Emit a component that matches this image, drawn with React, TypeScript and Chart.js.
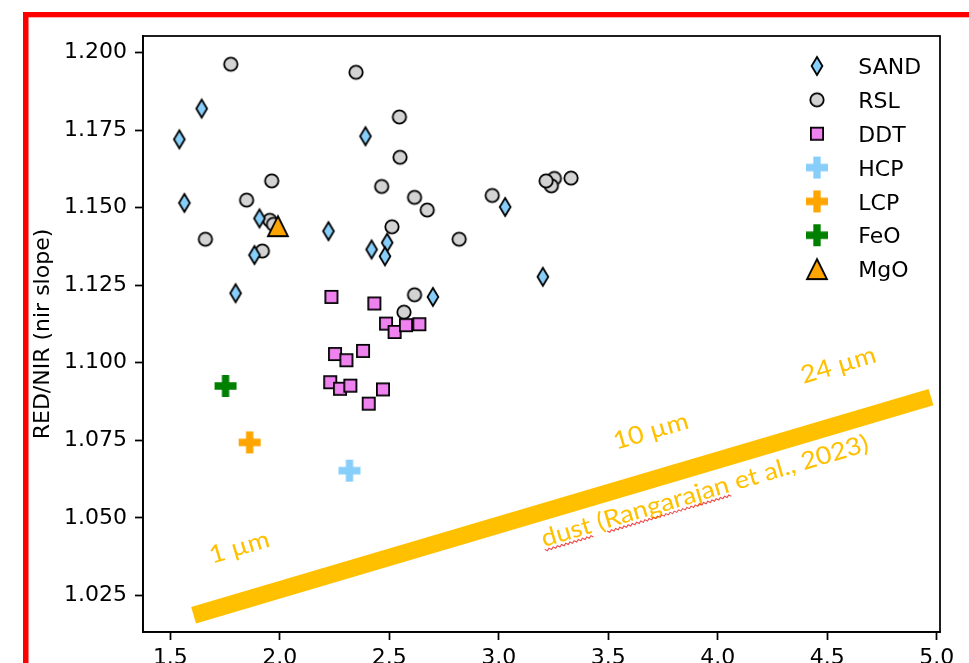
import React, { useEffect, useRef } from "react";
import { Chart, registerables } from "chart.js";

Chart.register(...registerables);

// ---------------- data ----------------
const SERIES_NAMES = ["SAND", "RSL", "DDT", "HCP", "LCP", "FeO", "MgO"];

const SAND_X = [1.541, 1.643, 1.564, 1.907, 1.884, 1.798, 2.222, 2.391, 2.419, 2.49, 2.48, 2.699, 3.029, 3.201];
const SAND_Y = [1.172, 1.1819, 1.1515, 1.1465, 1.1347, 1.1224, 1.1424, 1.173, 1.1365, 1.1387, 1.1343, 1.1212, 1.1502, 1.1277];

const RSL_X = [1.776, 2.348, 2.546, 2.549, 1.963, 1.848, 2.465, 2.615, 2.673, 1.954, 1.971, 2.512, 1.66, 1.92, 2.819, 2.97, 3.254, 3.24, 3.216, 3.33, 2.615, 2.567];
const RSL_Y = [1.1962, 1.1936, 1.1792, 1.1662, 1.1586, 1.1524, 1.1568, 1.1533, 1.1492, 1.1459, 1.1446, 1.1438, 1.1398, 1.136, 1.1398, 1.1539, 1.1594, 1.157, 1.1586, 1.1595, 1.1219, 1.1163];

const DDT_X = [2.2355, 2.4316, 2.485, 2.524, 2.576, 2.637, 2.252, 2.304, 2.38, 2.23, 2.275, 2.322, 2.406, 2.471];
const DDT_Y = [1.1212, 1.1191, 1.1126, 1.1099, 1.1121, 1.1124, 1.1028, 1.1008, 1.1038, 1.0937, 1.0916, 1.0926, 1.0868, 1.0914];

const HCP_X = [2.318];
const HCP_Y = [1.0652];
const LCP_X = [1.862];
const LCP_Y = [1.0743];
const FEO_X = [1.752];
const FEO_Y = [1.0925];
const MGO_X = [1.991];
const MGO_Y = [1.144];

// dust trend (Rangarajan et al., 2023)
const DUST_X = [1.606, 4.974];
const DUST_Y = [1.0186, 1.0889];
const DUST_LABELS = ["1 \u00b5m", "10 \u00b5m", "24 \u00b5m", "dust (Rangarajan et al., 2023)"];
const DUST_LABEL_X = [1.816, 3.695, 4.552, 3.942];
const DUST_LABEL_Y = [1.0402, 1.0776, 1.0989, 1.0583];

const X_TICKS = [1.5, 2.0, 2.5, 3.0, 3.5, 4.0, 4.5, 5.0];
const X_TICK_LABELS = ["1.5", "2.0", "2.5", "3.0", "3.5", "4.0", "4.5", "5.0"];
const Y_TICKS = [1.025, 1.05, 1.075, 1.1, 1.125, 1.15, 1.175, 1.2];
const Y_TICK_LABELS = ["1.025", "1.050", "1.075", "1.100", "1.125", "1.150", "1.175", "1.200"];

const X_MIN = 1.375;
const X_MAX = 5.015;
const Y_MIN = 1.0132;
const Y_MAX = 1.2053;

// ---------------- styling ----------------
const FONT = "DejaVu Sans";
const DUST_COLOR = "#FFC000";

type Kind = "diamond" | "circle" | "square" | "triangle" | "plus";

function makeMarker(kind: Kind, fill: string, stroke: string, lw: number): HTMLCanvasElement {
  const c = document.createElement("canvas");
  const S = 30;
  c.width = S;
  c.height = S;
  const g = c.getContext("2d")!;
  g.translate(S / 2, S / 2);
  g.beginPath();
  if (kind === "diamond") {
    g.moveTo(0, -9);
    g.lineTo(5.4, 0);
    g.lineTo(0, 9);
    g.lineTo(-5.4, 0);
    g.closePath();
  } else if (kind === "circle") {
    g.arc(0, 0, 6.7, 0, Math.PI * 2);
  } else if (kind === "square") {
    g.rect(-6.1, -6.1, 12.2, 12.2);
  } else if (kind === "triangle") {
    g.moveTo(0, -10);
    g.lineTo(10, 10);
    g.lineTo(-10, 10);
    g.closePath();
  } else {
    const a = 11;
    const b = 3.67;
    g.moveTo(-b, -a);
    g.lineTo(b, -a);
    g.lineTo(b, -b);
    g.lineTo(a, -b);
    g.lineTo(a, b);
    g.lineTo(b, b);
    g.lineTo(b, a);
    g.lineTo(-b, a);
    g.lineTo(-b, b);
    g.lineTo(-a, b);
    g.lineTo(-a, -b);
    g.lineTo(-b, -b);
    g.closePath();
  }
  g.fillStyle = fill;
  g.fill();
  if (lw > 0) {
    g.lineJoin = "miter";
    g.lineWidth = lw;
    g.strokeStyle = stroke;
    g.stroke();
  }
  return c;
}

function zip(xs: number[], ys: number[]) {
  return xs.map((x, i) => ({ x, y: ys[i] }));
}

export default function App() {
  const ref = useRef<HTMLCanvasElement | null>(null);

  useEffect(() => {
    const canvas = ref.current;
    if (!canvas) return;

    const markers = [
      makeMarker("diamond", "#87CEFA", "#000", 1.8),
      makeMarker("circle", "#D3D3D3", "#000", 1.8),
      makeMarker("square", "#EE82EE", "#000", 1.8),
      makeMarker("plus", "#87CEFA", "#87CEFA", 0),
      makeMarker("plus", "#FFA500", "#FFA500", 0),
      makeMarker("plus", "#008000", "#008000", 0),
      makeMarker("triangle", "#FFA500", "#000", 1.8),
    ];
    const seriesData = [
      zip(SAND_X, SAND_Y),
      zip(RSL_X, RSL_Y),
      zip(DDT_X, DDT_Y),
      zip(HCP_X, HCP_Y),
      zip(LCP_X, LCP_Y),
      zip(FEO_X, FEO_Y),
      zip(MGO_X, MGO_Y),
    ];
    const orders = [5, 6, 4, 3, 2, 1, 0];

    const datasets: any[] = SERIES_NAMES.map((name, i) => ({
      label: name,
      data: seriesData[i],
      pointStyle: markers[i],
      pointRadius: 6,
      order: orders[i],
      showLine: false,
    }));
    datasets.push({
      label: "dust",
      data: zip(DUST_X, DUST_Y),
      showLine: true,
      borderColor: DUST_COLOR,
      borderWidth: 17,
      borderCapStyle: "butt",
      pointRadius: 0,
      order: 10,
    });

    const decor = {
      id: "decor",
      beforeDraw(chart: any) {
        const ctx = chart.ctx;
        ctx.save();
        ctx.fillStyle = "#fff";
        ctx.fillRect(0, 0, chart.width, chart.height);
        ctx.fillStyle = "#FF0000";
        ctx.fillRect(23, 12, chart.width - 23, 5.3);
        ctx.fillRect(23, 12, 5.5, chart.height);
        ctx.restore();
      },
      afterDatasetsDraw(chart: any) {
        const ctx = chart.ctx;
        const xs = chart.scales.x;
        const ys = chart.scales.y;
        const x0 = xs.getPixelForValue(DUST_X[0]);
        const y0 = ys.getPixelForValue(DUST_Y[0]);
        const x1 = xs.getPixelForValue(DUST_X[1]);
        const y1 = ys.getPixelForValue(DUST_Y[1]);
        const ang = Math.atan2(y1 - y0, x1 - x0);
        ctx.save();
        ctx.font = "24.5px Lato";
        const wMain = ctx.measureText(DUST_LABELS[3]).width;
        const sx = 340 / wMain;
        DUST_LABELS.forEach((t, i) => {
          const px = xs.getPixelForValue(DUST_LABEL_X[i]);
          const py = ys.getPixelForValue(DUST_LABEL_Y[i]);
          ctx.save();
          ctx.translate(px, py);
          ctx.rotate(ang);
          ctx.scale(sx, 1);
          ctx.fillStyle = DUST_COLOR;
          ctx.textAlign = "left";
          ctx.textBaseline = "alphabetic";
          const w = ctx.measureText(t).width;
          const left = -w / 2;
          ctx.fillText(t, left, 7);
          if (i === 3) {
            // spell-check squiggles under "dust" and "Rangarajan"
            const segs: [number, number][] = [
              [0, ctx.measureText("dust").width],
              [ctx.measureText("dust (").width, ctx.measureText("dust (Rangarajan").width],
            ];
            ctx.strokeStyle = "rgba(235,40,40,0.85)";
            ctx.lineWidth = 1;
            segs.forEach(([a, b]) => {
              ctx.beginPath();
              let k = 0;
              for (let xx = left + a; xx <= left + b; xx += 2) {
                const yy = 10.5 + (k % 2 === 0 ? -1 : 1);
                if (k === 0) ctx.moveTo(xx, yy);
                else ctx.lineTo(xx, yy);
                k++;
              }
              ctx.stroke();
            });
          }
          ctx.restore();
        });
        ctx.restore();
      },
      afterDraw(chart: any) {
        const ctx = chart.ctx;
        const a = chart.chartArea;
        ctx.save();
        ctx.strokeStyle = "#000";
        ctx.lineWidth = 1.76;
        ctx.strokeRect(a.left, a.top, a.right - a.left, a.bottom - a.top);
        // legend
        ctx.font = `22px "${FONT}"`;
        ctx.fillStyle = "#000";
        ctx.textAlign = "left";
        ctx.textBaseline = "alphabetic";
        SERIES_NAMES.forEach((name, i) => {
          const ry = 66 + i * 33.85;
          const m = markers[i];
          ctx.drawImage(m, 817 - m.width / 2, ry - m.height / 2);
          ctx.fillText(name, 858.3, ry + 8.2);
        });
        ctx.restore();
      },
    };

    const tickFont = { family: FONT, size: 22 };

    const chart = new Chart(canvas, {
      type: "scatter",
      data: { datasets },
      options: {
        responsive: false,
        animation: false,
        events: [],
        layout: { padding: { left: 0, top: 36, right: 29, bottom: 8 } },
        plugins: { legend: { display: false }, tooltip: { enabled: false } },
        scales: {
          x: {
            type: "linear",
            min: X_MIN,
            max: X_MAX,
            afterBuildTicks: (s: any) => {
              s.ticks = X_TICKS.map((v) => ({ value: v }));
            },
            afterFit: (s: any) => {
              s.height = 60;
            },
            ticks: {
              autoSkip: false,
              maxRotation: 0,
              color: "#000",
              font: tickFont,
              padding: 5,
              callback: (v: any) => {
                const i = X_TICKS.findIndex((t) => Math.abs(t - v) < 1e-9);
                return i >= 0 ? X_TICK_LABELS[i] : "";
              },
            },
            grid: { drawOnChartArea: false, tickLength: 8, tickWidth: 1.76, tickColor: "#000" },
            border: { display: true, color: "#000", width: 1.76 },
          },
          y: {
            type: "linear",
            min: Y_MIN,
            max: Y_MAX,
            afterBuildTicks: (s: any) => {
              s.ticks = Y_TICKS.map((v) => ({ value: v }));
            },
            afterFit: (s: any) => {
              s.width = 143;
            },
            ticks: {
              autoSkip: false,
              color: "#000",
              font: tickFont,
              padding: 8,
              callback: (v: any) => {
                const i = Y_TICKS.findIndex((t) => Math.abs(t - v) < 1e-9);
                return i >= 0 ? Y_TICK_LABELS[i] : "";
              },
            },
            grid: { drawOnChartArea: false, tickLength: 8, tickWidth: 1.76, tickColor: "#000" },
            border: { display: true, color: "#000", width: 1.76 },
            title: {
              display: true,
              text: "RED/NIR (nir slope)",
              color: "#000",
              font: { family: FONT, size: 22 },
              padding: { top: 30, bottom: 0 },
            },
          },
        },
      } as any,
      plugins: [decor],
    });

    return () => chart.destroy();
  }, []);

  return (
    <div
      style={{
        position: "absolute",
        left: 0,
        top: 0,
        width: 969,
        height: 663,
        overflow: "hidden",
        background: "#fff",
      }}
    >
      <canvas ref={ref} width={969} height={700} style={{ display: "block", width: 969, height: 700 }} />
    </div>
  );
}
